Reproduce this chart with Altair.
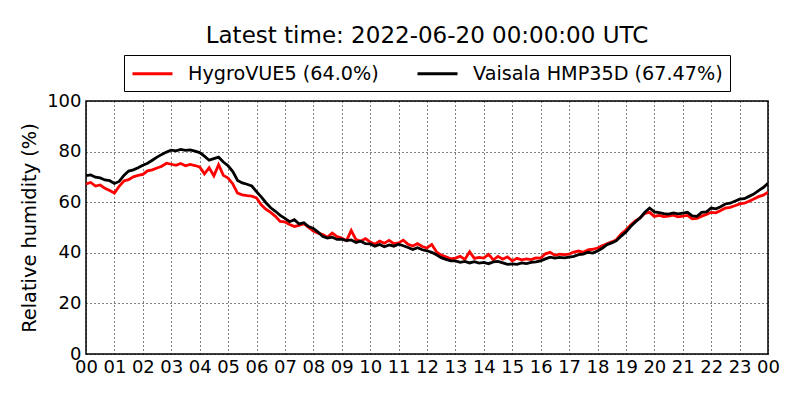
import altair as alt
import pandas as pd

# 10-minute readings, 2022-06-19 00:00 UTC .. 2022-06-20 00:00 UTC
hygro = [
    67.2, 67.8, 66.4, 66.8, 65.5, 64.6,
    63.6, 66.3, 68.4, 68.9, 70.0, 70.6,
    71.0, 72.4, 72.8, 73.5, 74.2, 75.4,
    75.0, 74.6, 75.3, 74.4, 74.9, 74.5,
    73.9, 71.2, 73.6, 70.4, 74.8, 70.6,
    69.5, 67.2, 63.6, 62.9, 62.6, 62.4,
    61.7, 59.0, 57.2, 56.0, 54.4, 52.4,
    52.2, 51.2, 50.4, 50.8, 51.5, 50.0,
    48.6, 47.8, 47.2, 46.2, 47.8, 46.4,
    45.8, 44.8, 48.8, 45.2, 44.6, 45.6,
    44.3, 43.4, 44.6, 43.8, 44.9, 43.6,
    43.9, 45.0, 43.4, 42.7, 43.6, 42.5,
    41.9, 43.3, 40.4, 39.1, 38.4, 37.6,
    37.9, 38.6, 37.4, 40.4, 37.8, 38.2,
    37.9, 39.4, 37.2, 38.6, 37.5, 38.4,
    36.8, 37.8, 37.2, 37.6, 37.3, 38.0,
    37.9, 39.6, 40.2, 39.0, 39.5, 39.3,
    39.5, 40.3, 40.7, 40.2, 41.2, 41.4,
    41.9, 42.8, 43.6, 44.3, 45.2, 47.4,
    49.0, 51.0, 52.6, 53.8, 55.6, 56.0,
    54.4, 54.8, 54.3, 54.5, 54.9, 54.2,
    54.5, 54.8, 53.4, 53.6, 54.5, 55.2,
    56.0, 55.8, 56.7, 57.7, 58.0, 58.6,
    59.3, 59.6, 60.4, 61.3, 62.2, 62.8,
    64.0,
]

vaisala = [
    70.5, 70.8, 69.9, 69.6, 68.8, 68.5,
    67.4, 68.2, 70.6, 72.3, 72.8, 73.6,
    74.6, 75.4, 76.6, 77.8, 78.9, 79.8,
    80.6, 80.3, 80.9, 80.5, 80.7, 80.2,
    79.6, 78.2, 76.6, 77.2, 77.8, 75.9,
    74.4, 72.1, 68.6, 67.6, 67.1, 66.4,
    64.2, 62.1, 59.8, 57.8, 56.4, 54.8,
    53.6, 52.3, 53.1, 51.4, 51.9, 50.4,
    49.6, 48.2, 46.4, 45.8, 46.2, 45.3,
    45.4, 44.8, 45.1, 44.1, 44.6, 43.6,
    43.5, 42.6, 43.3, 42.4, 43.1, 42.6,
    43.4, 42.8, 42.1, 41.3, 42.0, 41.2,
    40.8, 40.2, 39.2, 38.1, 37.4, 36.8,
    36.8, 36.2, 36.6, 36.0, 36.5, 35.9,
    36.2, 35.7, 36.4, 36.6, 36.0, 35.4,
    35.6, 35.4, 36.0, 35.7, 36.2, 36.4,
    36.8, 37.6, 38.3, 37.9, 38.2, 38.0,
    38.3, 38.6, 39.3, 39.5, 40.2, 39.9,
    40.7, 41.8, 43.2, 43.9, 44.8, 46.6,
    48.2, 50.4, 52.2, 53.8, 56.0, 57.7,
    56.2, 55.9, 55.5, 55.3, 55.8, 55.4,
    55.7, 56.0, 54.6, 54.4, 56.0, 56.2,
    57.7, 57.4, 58.2, 59.3, 59.6, 60.4,
    61.2, 61.4, 62.3, 63.2, 64.6, 65.8,
    67.47,
]

series_names = ["HygroVUE5 (64.0%)", "Vaisala HMP35D (67.47%)"]
series_colors = ["#ff0000", "#000000"]
y_ticks = [0, 20, 40, 60, 80, 100]
title_text = "Latest time: 2022-06-20 00:00:00 UTC"

times = pd.date_range("2022-06-19T00:00:00", periods=len(hygro), freq="10min")
time_str = [t.strftime("%Y-%m-%dT%H:%M:%SZ") for t in times]

df = pd.concat([
    pd.DataFrame({"time": time_str, "value": hygro, "series": series_names[0]}),
    pd.DataFrame({"time": time_str, "value": vaisala, "series": series_names[1]}),
])

x_ticks = [alt.DateTime(year=2022, month=6, date=19, hours=h, utc=True) for h in range(24)]
x_ticks.append(alt.DateTime(year=2022, month=6, date=20, hours=0, utc=True))

FONT = "DejaVu Sans"

chart = alt.Chart(df).mark_line(strokeWidth=2.8, clip=True).encode(
    x=alt.X(
        "time:T",
        scale=alt.Scale(
            type="utc",
            domain=[alt.DateTime(year=2022, month=6, date=19, hours=0, utc=True),
                    alt.DateTime(year=2022, month=6, date=20, hours=0, utc=True)],
            nice=False,
        ),
        axis=alt.Axis(values=x_ticks, format="%H", labelOverlap=False, title=None,
                      labelPadding=4, labelFlush=False),
    ),
    y=alt.Y(
        "value:Q",
        scale=alt.Scale(domain=[0, 100], nice=False),
        axis=alt.Axis(values=y_ticks, title="Relative humidity (%)", labelPadding=5,
                      titlePadding=7),
    ),
    color=alt.Color(
        "series:N",
        scale=alt.Scale(domain=series_names, range=series_colors),
        legend=alt.Legend(
            title=None, orient="none", legendX=38, legendY=-46,
            direction="horizontal", columns=2,
            symbolType="M-2,0L2,0", symbolStrokeWidth=3, symbolSize=400,
            symbolOffset=10,
            labelFontSize=19.2, labelFont=FONT, labelColor="black", labelLimit=400,
            strokeColor="black", fillColor="white", padding=7,
            columnPadding=32, labelOffset=24, cornerRadius=0,
        ),
    ),
).properties(
    width=682,
    height=253,
    title=alt.TitleParams(title_text, fontSize=23, font=FONT, fontWeight="normal",
                          anchor="middle", frame="group", offset=-11,
                          baseline="alphabetic", color="black"),
    autosize=alt.AutoSizeParams(type="none"),
    padding={"left": 78, "top": 93, "right": 24, "bottom": 38},
    background="white",
).configure_axis(
    labelFont=FONT, labelFontSize=18, labelColor="black",
    titleFont=FONT, titleFontSize=19.4, titleFontWeight="normal", titleColor="black",
    ticks=False, domain=False,
    grid=True, gridColor="black", gridDash=[1, 3], gridWidth=1, gridOpacity=1,
).configure_view(
    stroke="black", strokeWidth=1.5,
)

chart.save("out.html", embed_options={"renderer": "svg", "actions": False})
